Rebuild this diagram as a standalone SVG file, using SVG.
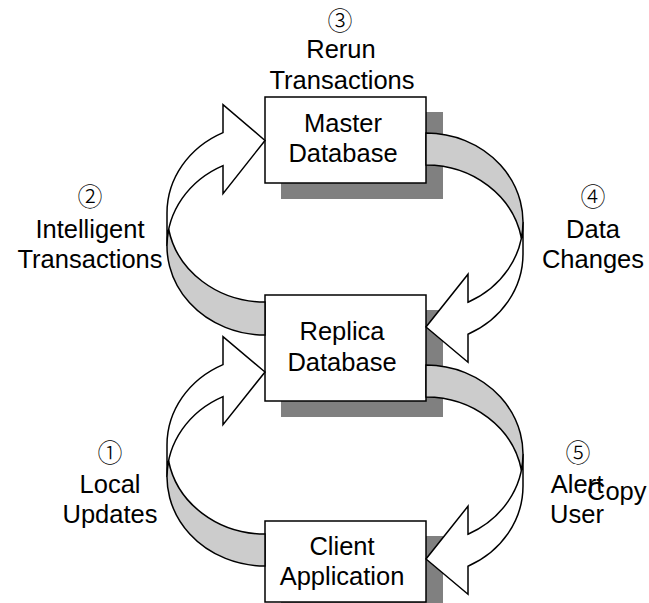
<svg xmlns="http://www.w3.org/2000/svg" width="649" height="603" viewBox="0 0 649 603">
<style>
.box{fill:#fff;stroke:#000;stroke-width:1.5}
.shadow{fill:#808080}
.front{fill:#fff;stroke:#000;stroke-width:1.5;stroke-linejoin:miter}
.back{fill:#cccccc;stroke:#000;stroke-width:1.5}
text{font-family:"Liberation Sans",Arial,sans-serif;font-size:25.5px;fill:#000;text-anchor:middle}
text.num{font-family:"Noto Sans CJK JP","DejaVu Sans",sans-serif;font-size:25px;font-weight:300}
</style>
<rect width="649" height="603" fill="#fff"/>
<g id="master">
<rect class="shadow" x="281" y="112" width="162" height="87"/>
<rect class="box" x="265" y="97" width="161" height="86"/>
<text x="343" y="132">Master</text>
<text x="343" y="162">Database</text>
</g>
<g id="replica">
<rect class="shadow" x="281" y="310" width="162" height="107"/>
<rect class="box" x="265" y="295" width="161" height="106"/>
<text x="342" y="340">Replica</text>
<text x="342" y="371">Database</text>
</g>
<g id="client">
<rect class="shadow" x="281" y="536" width="162" height="81"/>
<rect class="box" x="265" y="521" width="161" height="81"/>
<text x="342" y="555">Client</text>
<text x="342" y="585">Application</text>
</g>
<g id="connectors">
<g id="arrow-intelligent">
<path class="front" d="M167,246 A98,89 0 0 1 223,165.6 L223,193.6 L265,140.5 L223,104.6 L223,132.6 A98,89 0 0 0 167,213 Z"/>
<path class="back" d="M265,302 A98,89 0 0 1 168.7,229.5 A98,89 0 0 0 265,335 Z"/>
</g>
<g id="arrow-local">
<path class="front" d="M167,477 A98,89 0 0 1 223,396.6 L223,424.6 L265,372 L223,336.6 L223,364.6 A98,89 0 0 0 167,445 Z"/>
<path class="back" d="M265,534 A98,89 0 0 1 168.6,461 A98,89 0 0 0 265,566 Z"/>
</g>
<g id="arrow-datachanges">
<path class="front" d="M523,222 A97,89 0 0 1 468,302.2 L468,274.2 L426,327 L468,362.2 L468,334.2 A97,89 0 0 0 523,254 Z"/>
<path class="back" d="M426,165 A97,89 0 0 1 521.4,238 A97,89 0 0 0 426,133 Z"/>
</g>
<g id="arrow-alert">
<path class="front" d="M523,454 A97,89 0 0 1 468,534.2 L468,506.2 L426,559 L468,594.2 L468,566.2 A97,89 0 0 0 523,486 Z"/>
<path class="back" d="M426,397 A97,89 0 0 1 521.4,470 A97,89 0 0 0 426,365 Z"/>
</g>
</g>
<g id="label-rerun">
<text class="num" x="340" y="30">③</text>
<text x="341" y="58">Rerun</text>
<text x="342" y="89">Transactions</text>
</g>
<g id="label-intelligent">
<text class="num" x="90" y="206">②</text>
<text x="90" y="238">Intelligent</text>
<text x="90" y="268">Transactions</text>
</g>
<g id="label-datachanges">
<text class="num" x="593" y="206">④</text>
<text x="593" y="238">Data</text>
<text x="593" y="268">Changes</text>
</g>
<g id="label-local">
<text class="num" x="110" y="462">①</text>
<text x="110" y="493">Local</text>
<text x="110" y="523">Updates</text>
</g>
<g id="label-alert">
<text class="num" x="578" y="462">⑤</text>
<text x="577" y="493">Alert</text>
<text x="577" y="523">User</text>
<text x="587" y="500" style="text-anchor:start">Copy</text>
</g>
</svg>
